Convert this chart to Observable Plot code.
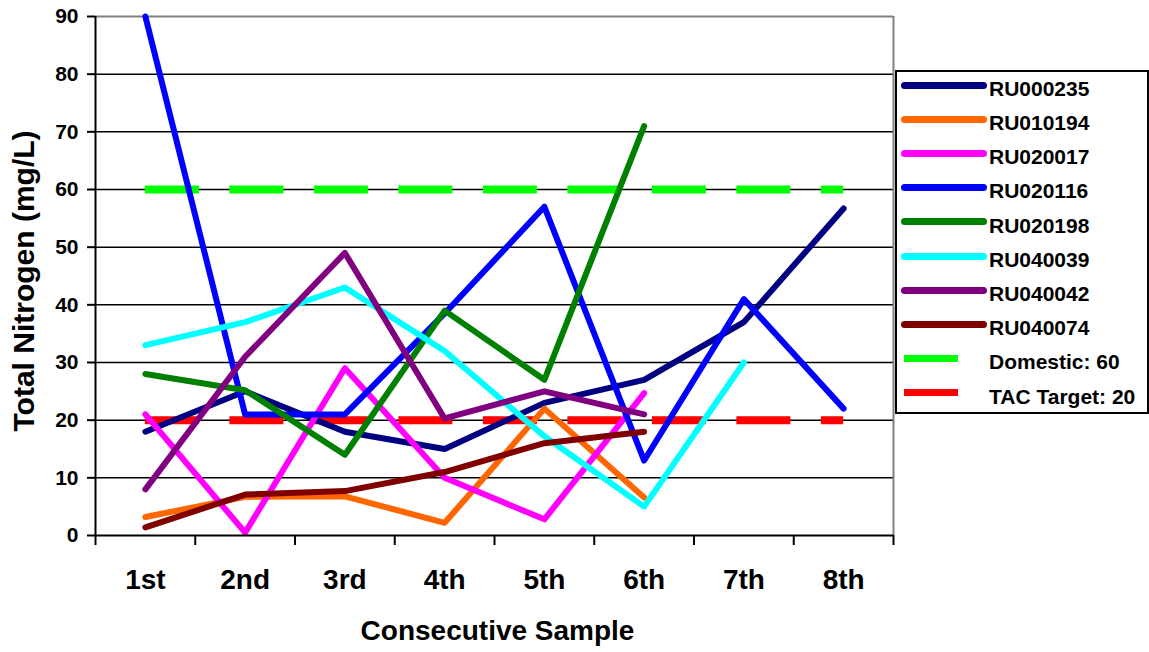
<!DOCTYPE html>
<html>
<head>
<meta charset="utf-8">
<script src="https://cdn.jsdelivr.net/npm/d3@7"></script>
<script src="https://cdn.jsdelivr.net/npm/@observablehq/plot@0.6"></script>
<style>
  html, body { margin: 0; padding: 0; background: #fff; }
  #wrap { position: relative; width: 1149px; height: 652px; font-family: "Liberation Sans", Arial, sans-serif; font-weight: bold; }
  #legend { position: absolute; left: 895px; top: 70px; width: 250px; height: 340px; border: 2px solid #000; box-sizing: content-box; }
  .sw { position: absolute; }
  .lab { position: absolute; font-size: 21px; line-height: 21px; white-space: nowrap; color: #000; }
</style>
</head>
<body>
<div id="wrap"></div>
<script>
// ---- data ----
const categories = ["1st", "2nd", "3rd", "4th", "5th", "6th", "7th", "8th"];
const yTicks = [0, 10, 20, 30, 40, 50, 60, 70, 80, 90];

const seriesNames = ["RU000235", "RU010194", "RU020017", "RU020116", "RU020198", "RU040039", "RU040042", "RU040074"];
const seriesColors = ["#000080", "#ff6600", "#ff00ff", "#0000ff", "#008000", "#00ffff", "#800080", "#800000"];

const RU000235 = [18, 25, 18, 15, 23, 27, 37, 56.7];
const RU010194 = [3.2, 6.7, 6.8, 2.2, 22, 6.6];
const RU020017 = [21, 0.5, 29, 10, 2.8, 24.7];
const RU020116 = [90, 21, 21, 38.5, 57, 13, 41, 22];
const RU020198 = [28, 25.2, 14, 39, 27, 71];
const RU040039 = [33, 37, 43, 32, 17.2, 5, 30];
const RU040042 = [8, 31, 49, 20.3, 25, 21];
const RU040074 = [1.4, 7.1, 7.7, 11, 16, 18];
const seriesValues = [RU000235, RU010194, RU020017, RU020116, RU020198, RU040039, RU040042, RU040074];

const refNames = ["Domestic: 60", "TAC Target: 20"];
const refValues = [60, 20];
const refColors = ["#00ff00", "#ff0000"];

// ---- build tables ----
const rows = [];
seriesNames.forEach((name, s) => {
  seriesValues[s].forEach((v, i) => rows.push({series: name, i: i + 1, v}));
});
const refs = refNames.map((name, k) => ({name, value: refValues[k], color: refColors[k]}));
const catIdx = categories.map((_, i) => i + 1);
const bounds = [0.5, ...catIdx.map(i => i + 0.5)];
const xMin = bounds[0], xMax = bounds[bounds.length - 1];

const font = '"Liberation Sans", Arial, sans-serif';

const chart = Plot.plot({
  width: 1149,
  height: 652,
  marginLeft: 95,
  marginRight: 256,
  marginTop: 16,
  marginBottom: 117,
  style: {fontFamily: font, fontWeight: "bold", color: "#000", background: "#fff", overflow: "visible"},
  x: {type: "linear", domain: [xMin, xMax]},
  y: {domain: [yTicks[0], yTicks[yTicks.length - 1]]},
  color: {domain: seriesNames, range: seriesColors},
  marks: [
    // gridlines
    Plot.ruleY(yTicks.slice(1, -1), {stroke: "#000", strokeWidth: 1.5}),
    // plot frame top/right (gray)
    Plot.ruleY([yTicks[yTicks.length - 1]], {stroke: "#808080", strokeWidth: 2}),
    Plot.ruleX([xMax], {stroke: "#808080", strokeWidth: 2}),
    // reference dashed lines
    Plot.ruleY(refs, {y: "value", x1: catIdx[0], x2: catIdx[catIdx.length - 1], stroke: "color", strokeWidth: 8, strokeDasharray: "54,30.5"}),
    // series lines
    Plot.line(rows, {x: "i", y: "v", z: "series", stroke: "series", strokeWidth: 6, strokeLinecap: "round", strokeLinejoin: "round"}),
    // axes lines
    Plot.ruleX([xMin], {stroke: "#000", strokeWidth: 2}),
    Plot.ruleY([yTicks[0]], {stroke: "#000", strokeWidth: 2}),
    Plot.axisY({ticks: yTicks, tickSize: 8, tickPadding: 9, fontSize: 21, fontWeight: "bold", label: null, strokeWidth: 2, tickFormat: d => String(d)}),
    Plot.axisX({ticks: bounds, tickSize: 10, tickFormat: () => "", label: null, strokeWidth: 2}),
    Plot.axisX({ticks: catIdx, tickSize: 0, tickPadding: 34, tickFormat: i => categories[i - 1], fontSize: 28, fontWeight: "bold", label: null}),
    // axis titles
    Plot.text(["Total Nitrogen (mg/L)"], {frameAnchor: "left", textAnchor: "middle", text: d => d, rotate: -90, dx: -71, dy: 5, fontSize: 30, fontWeight: "bold", fill: "#000"}),
    Plot.text(["Consecutive Sample"], {frameAnchor: "bottom", textAnchor: "middle", text: d => d, lineAnchor: "top", dy: 85, dx: 3, fontSize: 28, fontWeight: "bold", fill: "#000"})
  ]
});

const wrap = document.getElementById("wrap");
wrap.appendChild(chart);

// ---- legend (HTML overlay) ----
const legend = document.createElement("div");
legend.id = "legend";
wrap.appendChild(legend);
const entries = [
  ...seriesNames.map((n, s) => ({name: n, color: seriesColors[s], kind: "line"})),
  ...refs.map(r => ({name: r.name, color: r.color, kind: "dash"}))
];
const legTop = 70 + 2, legLeft = 895 + 2;
entries.forEach((e, k) => {
  const cy = 85 + k * 34.2 - legTop;
  const sw = document.createElement("div");
  sw.className = "sw";
  if (e.kind === "line") {
    sw.style.left = (901 - legLeft) + "px";
    sw.style.width = "86px";
    sw.style.height = "7px";
    sw.style.borderRadius = "3.5px";
  } else {
    sw.style.left = (904 - legLeft) + "px";
    sw.style.width = "54px";
    sw.style.height = "7px";
  }
  sw.style.top = (cy - 3.5) + "px";
  sw.style.background = e.color;
  legend.appendChild(sw);
  const lab = document.createElement("div");
  lab.className = "lab";
  lab.textContent = e.name;
  lab.style.left = (989 - legLeft) + "px";
  lab.style.top = (cy + 3 - 10.25) + "px";
  legend.appendChild(lab);
});
</script>
</body>
</html>
